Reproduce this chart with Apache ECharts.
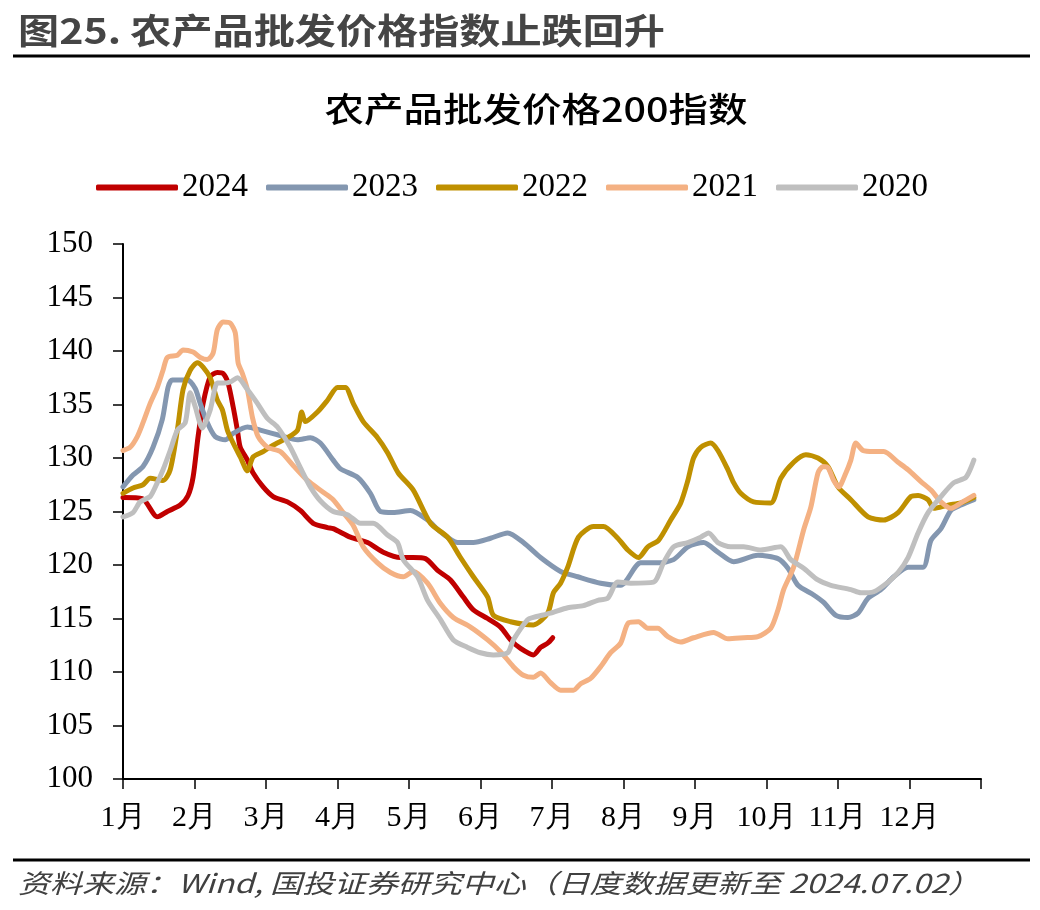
<!DOCTYPE html>
<html>
<head>
<meta charset="utf-8">
<script src="https://cdn.jsdelivr.net/npm/echarts@6/dist/echarts.min.js"></script>
<style>
html,body{margin:0;padding:0;background:#fff;}
#chart{width:1040px;height:910px;}
</style>
</head>
<body>
<div id="chart"></div>
<script>
// ---- data (x = months elapsed since Jan 1, y = index value) ----
const seriesNames = ['2024', '2023', '2022', '2021', '2020'];
const seriesColors = ['#C00000', '#8497B0', '#BF9000', '#F4B183', '#BFBFBF'];
const monthLabels = ['1月','2月','3月','4月','5月','6月','7月','8月','9月','10月','11月','12月'];
const yTicks = { min: 100, max: 150, interval: 5 };

const v2024 = [[0,126.3],[0.27,126.2],[0.48,124.5],[0.62,125.0],[0.80,125.6],[0.91,126.5],[0.98,128.2],[1.05,132.0],[1.12,135.1],[1.22,137.6],[1.32,138.0],[1.40,137.9],[1.47,137.0],[1.54,134.8],[1.60,132.6],[1.64,131.0],[1.74,129.8],[1.82,128.6],[1.96,127.3],[2.10,126.4],[2.30,125.9],[2.48,125.1],[2.66,123.9],[2.86,123.5],[2.94,123.4],[3.18,122.6],[3.42,122.1],[3.64,121.2],[3.88,120.7],[4.06,120.7],[4.23,120.6],[4.40,119.5],[4.58,118.6],[4.76,117.0],[4.90,115.8],[5.10,115.0],[5.28,114.2],[5.42,113.0],[5.56,112.2],[5.74,111.6],[5.84,112.3],[5.94,112.7],[6.01,113.2]];

const v2023 = [[0,127.3],[0.14,128.4],[0.28,129.2],[0.42,131.0],[0.55,133.6],[0.63,136.6],[0.69,137.3],[0.90,137.3],[1.01,136.5],[1.08,135.1],[1.18,133.3],[1.29,132.0],[1.43,131.7],[1.54,132.3],[1.74,132.9],[1.92,132.6],[2.20,132.1],[2.44,131.7],[2.62,131.9],[2.76,131.4],[2.94,129.8],[3.04,129.0],[3.28,128.2],[3.46,126.7],[3.60,125.0],[3.78,124.9],[4.02,125.1],[4.26,124.2],[4.44,123.1],[4.68,122.1],[4.90,122.1],[5.14,122.5],[5.38,123.0],[5.60,122.1],[5.84,120.7],[6.12,119.4],[6.36,118.9],[6.68,118.3],[6.96,118.1],[7.24,120.2],[7.48,120.2],[7.70,120.5],[7.90,121.7],[8.12,122.1],[8.32,121.2],[8.54,120.3],[8.88,120.9],[9.16,120.6],[9.30,119.7],[9.44,118.1],[9.66,117.2],[9.80,116.5],[9.97,115.3],[10.14,115.1],[10.28,115.5],[10.42,116.9],[10.60,117.7],[10.78,118.9],[10.98,119.8],[11.19,119.8],[11.30,122.3],[11.44,123.4],[11.58,125.1],[11.72,125.6],[11.90,126.1]];

const v2022 = [[0,126.7],[0.14,127.2],[0.28,127.5],[0.38,128.1],[0.56,127.9],[0.66,128.9],[0.76,132.6],[0.84,136.4],[0.94,138.2],[1.04,138.9],[1.12,138.5],[1.22,137.5],[1.32,135.4],[1.39,134.5],[1.46,132.6],[1.54,131.4],[1.64,130.1],[1.74,128.8],[1.82,130.1],[1.96,130.6],[2.10,131.2],[2.30,131.9],[2.44,132.6],[2.50,134.3],[2.55,133.4],[2.72,134.3],[2.86,135.4],[3.00,136.6],[3.11,136.6],[3.22,135.1],[3.36,133.4],[3.56,131.9],[3.70,130.5],[3.85,128.6],[4.06,127.0],[4.30,123.9],[4.54,122.6],[4.72,120.7],[4.90,118.9],[5.10,117.0],[5.18,115.3],[5.42,114.7],[5.74,114.4],[5.94,115.5],[6.02,117.4],[6.12,118.3],[6.22,119.8],[6.37,122.6],[6.58,123.6],[6.72,123.6],[6.92,122.5],[7.06,121.4],[7.21,120.7],[7.34,121.7],[7.49,122.3],[7.66,124.2],[7.80,125.8],[7.90,127.9],[7.98,130.0],[8.08,131.0],[8.22,131.4],[8.32,130.7],[8.46,128.9],[8.54,127.7],[8.64,126.7],[8.82,125.9],[9.06,125.8],[9.20,128.1],[9.38,129.6],[9.55,130.3],[9.72,130.0],[9.86,129.2],[10.00,127.3],[10.18,126.1],[10.42,124.5],[10.64,124.2],[10.84,124.9],[11.02,126.4],[11.12,126.5],[11.26,126.1],[11.34,125.3],[11.54,125.6],[11.72,125.8],[11.90,126.3]];

const v2021 = [[0,130.7],[0.10,131.0],[0.20,132.0],[0.28,133.3],[0.38,135.1],[0.48,136.6],[0.56,138.2],[0.62,139.4],[0.76,139.6],[0.84,140.1],[0.98,139.9],[1.08,139.4],[1.18,139.2],[1.26,139.8],[1.32,142.0],[1.40,142.7],[1.50,142.6],[1.57,141.7],[1.61,138.9],[1.67,137.9],[1.74,136.4],[1.81,133.8],[1.89,132.0],[2.02,131.0],[2.20,130.6],[2.38,129.3],[2.58,127.9],[2.80,126.8],[2.94,126.1],[3.08,124.9],[3.22,123.7],[3.36,121.7],[3.56,120.2],[3.74,119.3],[3.92,118.9],[4.06,119.4],[4.26,118.3],[4.44,116.4],[4.62,115.1],[4.86,114.2],[5.10,113.0],[5.28,111.9],[5.46,110.5],[5.60,109.7],[5.74,109.5],[5.84,109.9],[5.98,109.0],[6.12,108.3],[6.30,108.3],[6.40,108.9],[6.54,109.4],[6.68,110.5],[6.82,111.8],[6.96,112.7],[7.07,114.6],[7.21,114.7],[7.34,114.1],[7.48,114.1],[7.62,113.3],[7.80,112.8],[7.98,113.2],[8.26,113.7],[8.46,113.1],[8.68,113.2],[8.88,113.3],[9.06,114.1],[9.16,115.8],[9.24,117.7],[9.38,119.8],[9.52,123.3],[9.62,125.4],[9.72,128.6],[9.79,129.2],[9.86,129.1],[9.94,127.9],[10.01,127.3],[10.11,128.6],[10.18,129.8],[10.25,131.4],[10.35,130.7],[10.50,130.6],[10.64,130.6],[10.84,129.6],[10.98,128.9],[11.16,127.8],[11.30,127.0],[11.44,125.9],[11.58,125.3],[11.72,125.8],[11.90,126.5]];

const v2020 = [[0,124.5],[0.14,124.9],[0.24,125.9],[0.38,126.4],[0.48,127.7],[0.56,128.9],[0.66,130.7],[0.76,132.6],[0.87,133.3],[0.94,136.1],[1.01,134.8],[1.11,132.8],[1.22,134.5],[1.32,137.0],[1.40,137.0],[1.50,137.1],[1.60,137.5],[1.74,136.4],[1.88,135.1],[2.02,133.7],[2.16,132.9],[2.34,131.0],[2.48,129.1],[2.62,127.3],[2.76,126.0],[2.94,125.0],[3.14,124.7],[3.32,123.9],[3.50,123.9],[3.70,122.8],[3.84,122.1],[3.92,120.5],[4.12,118.9],[4.26,116.7],[4.44,114.9],[4.62,113.0],[4.82,112.3],[5.00,111.8],[5.18,111.6],[5.38,111.8],[5.46,113.0],[5.66,114.9],[5.74,115.1],[5.98,115.5],[6.22,116.0],[6.44,116.2],[6.64,116.7],[6.78,116.9],[6.92,118.4],[7.10,118.3],[7.42,118.4],[7.56,120.2],[7.70,121.7],[7.90,122.1],[8.08,122.6],[8.19,123.0],[8.32,122.1],[8.50,121.7],[8.68,121.7],[8.92,121.4],[9.20,121.7],[9.34,120.5],[9.52,119.7],[9.72,118.6],[9.90,118.1],[10.18,117.7],[10.32,117.4],[10.50,117.5],[10.70,118.4],[10.84,119.3],[10.98,120.7],[11.12,123.0],[11.26,124.9],[11.44,126.4],[11.62,127.7],[11.79,128.2],[11.90,129.8]];

const seriesData = [v2024, v2023, v2022, v2021, v2020];

const figTitle = '图25. 农产品批发价格指数止跌回升';
const chartTitle = '农产品批发价格200指数';
const sourceNote = '资料来源：Wind, 国投证券研究中心（日度数据更新至 2024.07.02）';

// ---- helpers ----
const ctx = document.createElement('canvas').getContext('2d');
function textWidth(text, font) { ctx.font = font; return ctx.measureText(text).width; }
const CJK = '"Noto Sans CJK SC", "Noto Sans", sans-serif';
const SERIF = '"Liberation Serif", "Times New Roman", serif';

const figScale = 647 / textWidth(figTitle, `bold 35px ${CJK}`);
const chartScale = 423 / textWidth(chartTitle, `500 34px ${CJK}`);
const noteScale = 962 / textWidth(sourceNote, `italic 26px ${CJK}`);

const chart = echarts.init(document.getElementById('chart'), null, { renderer: 'canvas' });

const option = {
  animation: false,
  backgroundColor: '#fff',
  grid: { left: 123, right: 59, top: 244, bottom: 131, containLabel: false },
  legend: {
    data: seriesNames,
    left: 91,
    top: 166,
    icon: 'roundRect',
    itemWidth: 82,
    itemHeight: 6,
    itemGap: 18,
    textStyle: { fontFamily: SERIF, fontSize: 33, color: '#000', padding: [0, 0, 0, -1] }
  },
  xAxis: {
    type: 'value',
    min: 0,
    max: 12,
    interval: 1,
    axisLine: { show: true, lineStyle: { color: '#000', width: 2 } },
    axisTick: { show: true, inside: false, length: 10, lineStyle: { color: '#000', width: 1.5 } },
    splitLine: { show: false },
    axisLabel: {
      show: true,
      margin: 24,
      fontFamily: SERIF,
      fontSize: 30,
      color: '#000',
      formatter: function (v) { return v < 12 ? monthLabels[v] : ''; }
    }
  },
  yAxis: {
    type: 'value',
    min: yTicks.min,
    max: yTicks.max,
    interval: yTicks.interval,
    axisLine: { show: true, lineStyle: { color: '#000', width: 2 } },
    axisTick: { show: true, inside: false, length: 10, lineStyle: { color: '#000', width: 1.5 } },
    splitLine: { show: false },
    axisLabel: { margin: 30, fontFamily: SERIF, fontSize: 31, color: '#000' }
  },
  series: seriesNames.map(function (name, i) {
    return {
      name: name,
      type: 'line',
      data: seriesData[i],
      showSymbol: false,
      symbol: 'none',
      smooth: 0.25,
      color: seriesColors[i],
      lineStyle: { width: 5, color: seriesColors[i], cap: 'round', join: 'round' },
      emphasis: { disabled: true }
    };
  }),
  graphic: [
    {
      type: 'text', x: 18, y: 31, scaleX: figScale,
      style: { text: figTitle, fontFamily: CJK, fontSize: 35, fontWeight: 'bold', fill: '#454545', textAlign: 'left', textVerticalAlign: 'middle' }
    },
    { type: 'rect', shape: { x: 13, y: 54.5, width: 1017, height: 3 }, style: { fill: '#000' } },
    {
      type: 'text', x: 536, y: 109, scaleX: chartScale,
      style: { text: chartTitle, fontFamily: CJK, fontSize: 34, fontWeight: 500, fill: '#000', textAlign: 'center', textVerticalAlign: 'middle' }
    },
    { type: 'rect', shape: { x: 13, y: 858.5, width: 1017, height: 3 }, style: { fill: '#000' } },
    {
      type: 'text', x: 18, y: 883, scaleX: noteScale,
      style: { text: sourceNote, fontFamily: CJK, fontSize: 26, fontStyle: 'italic', fill: '#404040', textAlign: 'left', textVerticalAlign: 'middle' }
    }
  ]
};
chart.setOption(option);
</script>
</body>
</html>
